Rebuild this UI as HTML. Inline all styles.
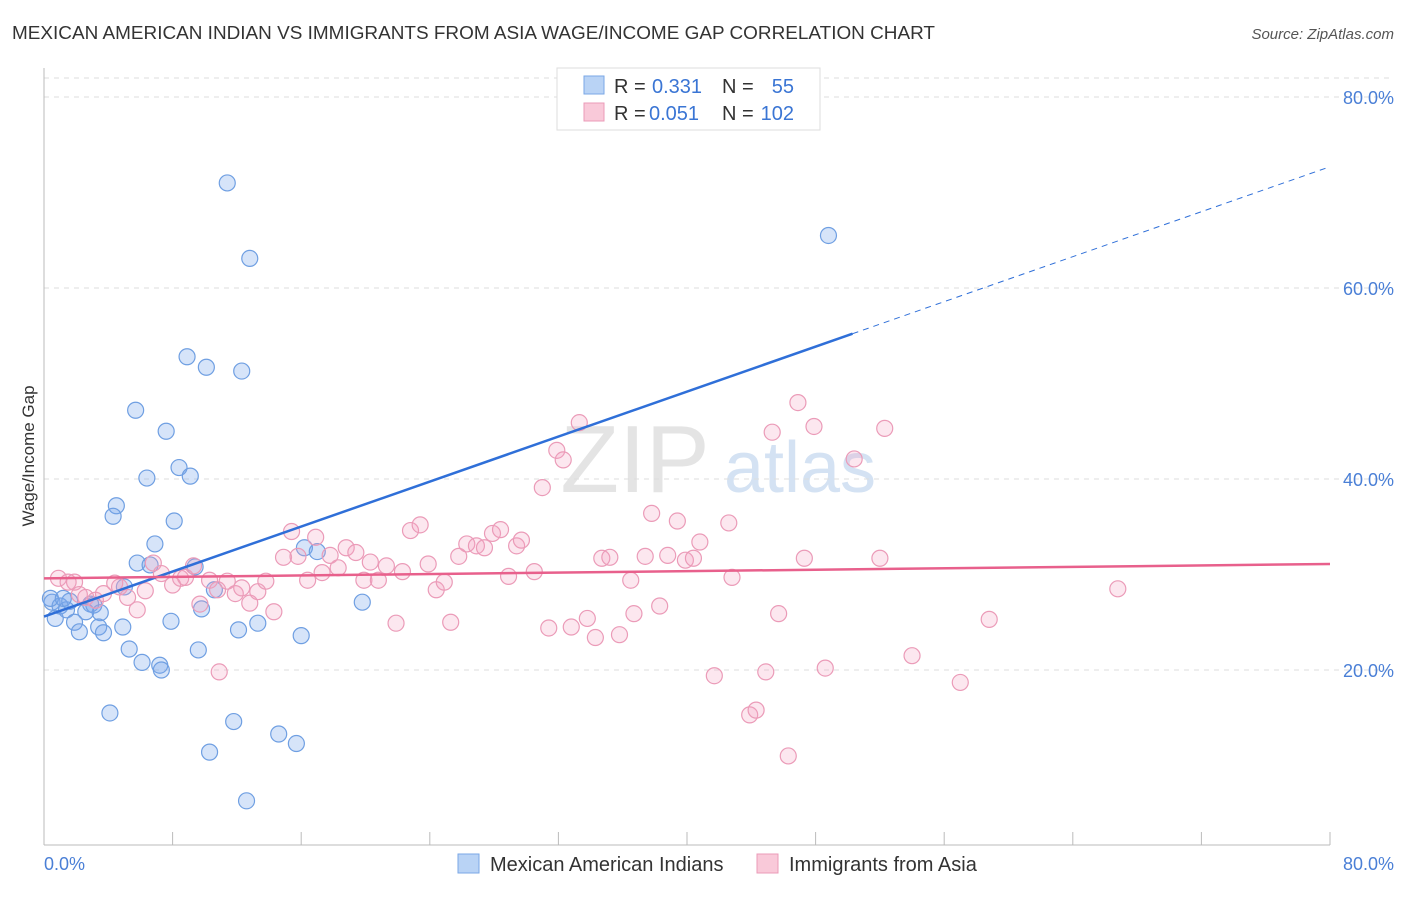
<!DOCTYPE html>
<html><head><meta charset="utf-8"><style>
body{margin:0;background:#fff;font-family:"Liberation Sans",sans-serif;}
svg text{font-family:"Liberation Sans",sans-serif;}
</style></head><body>
<svg id="chart" width="1406" height="892" xmlns="http://www.w3.org/2000/svg">
<text x="12" y="39" font-size="18" fill="#333" textLength="923" lengthAdjust="spacingAndGlyphs">MEXICAN AMERICAN INDIAN VS IMMIGRANTS FROM ASIA WAGE/INCOME GAP CORRELATION CHART</text>
<text x="1394" y="39" font-size="15" fill="#555" text-anchor="end" font-style="italic">Source: ZipAtlas.com</text>
<text x="635" y="492" font-size="96" fill="#e4e4e4" text-anchor="middle" font-family="Liberation Serif">ZIP</text>
<text x="800" y="492" font-size="72" fill="#d4e2f3" text-anchor="middle">atlas</text>
<g id="grid"></g>
<g id="axes"></g>
<g id="marks"></g>
<text x="34" y="456" font-size="17" fill="#333" text-anchor="middle" transform="rotate(-90 34 456)">Wage/Income Gap</text>
<text x="44" y="870" font-size="18" fill="#4a7fd6">0.0%</text>
<text x="1394" y="870" font-size="18" fill="#4a7fd6" text-anchor="end">80.0%</text>
<g>
<rect x="557" y="68" width="263" height="62" fill="#fff" stroke="#ddd"/>
<rect x="584" y="76" width="20" height="18" fill="#b9d3f5" stroke="#7aa7e6"/>
<rect x="584" y="103" width="20" height="18" fill="#f9c9d9" stroke="#eb9bb8"/>
<text x="614" y="93" font-size="20" fill="#333">R =</text>
<text x="652" y="93" font-size="20" fill="#3a75d4">0.331</text>
<text x="722" y="93" font-size="20" fill="#333">N =</text>
<text x="794" y="93" font-size="20" fill="#3a75d4" text-anchor="end">55</text>
<text x="614" y="120" font-size="20" fill="#333">R =</text>
<text x="649" y="120" font-size="20" fill="#3a75d4">0.051</text>
<text x="722" y="120" font-size="20" fill="#333">N =</text>
<text x="794" y="120" font-size="20" fill="#3a75d4" text-anchor="end">102</text>
</g>
<g>
<rect x="458" y="854" width="21" height="19" fill="#b9d3f5" stroke="#7aa7e6"/>
<text x="490" y="871" font-size="20" fill="#333">Mexican American Indians</text>
<rect x="757" y="854" width="21" height="19" fill="#f9c9d9" stroke="#eb9bb8"/>
<text x="789" y="871" font-size="20" fill="#333">Immigrants from Asia</text>
</g>
</svg>
<script>
const yTicks=[20,40,60,80];
const blueX=[11.4,12.8,48.8,8.9,10.1,12.3,5.7,7.6,6.4,8.4,9.1,4.5,4.3,8.1,6.9,5.8,6.6,9.4,16.2,17.0,10.6,5.0,19.8,9.8,7.9,12.1,13.3,16.0,4.9,5.3,9.6,6.1,7.2,7.3,4.1,11.8,14.6,15.7,10.3,12.6,0.5,0.7,1.0,1.4,1.6,1.9,2.2,2.9,3.1,3.5,3.4,3.7,2.6,0.4,1.2];
const blueY=[71.0,63.1,65.5,52.8,51.7,51.3,47.2,45.0,40.1,41.2,40.3,37.2,36.1,35.6,33.2,31.2,31.0,30.8,32.8,32.4,28.4,28.7,27.1,26.4,25.1,24.2,24.9,23.6,24.5,22.2,22.1,20.8,20.5,20.0,15.5,14.6,13.3,12.3,11.4,6.3,27.1,25.4,26.7,26.3,27.2,25.0,24.0,26.9,26.8,26.0,24.5,23.9,26.1,27.5,27.5];
const pinkX=[0.9,1.5,1.9,2.2,2.6,3.2,3.7,4.4,4.7,5.2,5.8,6.3,6.8,7.3,8.0,8.5,8.8,9.3,9.7,10.3,10.8,11.4,11.9,12.3,12.8,13.3,13.8,14.3,14.9,15.4,15.8,16.4,16.9,17.3,17.8,18.3,18.8,19.4,19.9,20.3,20.8,21.3,21.9,22.3,22.8,23.4,23.9,24.4,24.9,25.3,25.8,26.3,26.9,27.4,27.9,28.4,28.9,29.4,29.7,30.5,31.0,31.4,31.9,32.3,32.8,33.3,33.8,34.3,34.7,35.2,35.8,36.5,36.7,37.4,37.8,38.3,38.8,39.4,39.9,40.4,40.8,41.7,42.6,42.8,43.9,44.3,44.9,45.3,45.7,46.3,46.9,47.3,47.9,48.6,50.4,52.0,52.3,54.0,57.0,58.8,66.8,10.9];
const pinkY=[29.6,29.2,29.2,27.9,27.6,27.3,28.0,29.1,28.7,27.6,26.3,28.3,31.2,30.1,28.9,29.6,29.7,30.9,26.9,29.4,28.4,29.3,28.0,28.6,27.0,28.2,29.3,26.1,31.8,34.5,31.9,29.4,33.9,30.2,32.0,30.7,32.8,32.3,29.4,31.3,29.4,30.9,24.9,30.3,34.6,35.2,31.1,28.4,29.2,25.0,31.9,33.2,33.0,32.8,34.3,34.7,29.8,33.0,33.6,30.3,39.1,24.4,43.0,42.0,24.5,45.9,25.4,23.4,31.7,31.8,23.7,29.4,25.9,31.9,36.4,26.7,32.0,35.6,31.5,31.7,33.4,19.4,35.4,29.7,15.3,15.8,19.8,44.9,25.9,11.0,48.0,31.7,45.5,20.2,42.1,31.7,45.3,21.5,18.7,25.3,28.5,19.8];
const blueLine=[25.6,72.7];
const blueSolidEnd=50.3;
const pinkLine=[29.6,31.1];
const NS="http://www.w3.org/2000/svg";
const sx=v=>44+v*16.075, sy=v=>861-v*9.55;
function mk(t,a,p){const e=document.createElementNS(NS,t);for(const k in a)e.setAttribute(k,a[k]);p.appendChild(e);return e;}
const grid=document.getElementById('grid'),axes=document.getElementById('axes'),marks=document.getElementById('marks');
mk('line',{x1:44,y1:78,x2:1394,y2:78,stroke:'#ddd','stroke-dasharray':'5,5'},grid);
yTicks.forEach(t=>{
 const l=mk('line',{x1:44,y1:sy(t),x2:1394,y2:sy(t),stroke:'#ddd','stroke-dasharray':'5,5'},grid);
 
 
 const tx=mk('text',{x:1394,y:sy(t)+7,'font-size':18,fill:'#4a7fd6','text-anchor':'end'},grid);
 tx.textContent=t.toFixed(1)+'%';
 
 
});
mk('line',{x1:44,y1:68,x2:44,y2:845,stroke:'#bbb'},axes);
mk('line',{x1:44,y1:845,x2:1330,y2:845,stroke:'#bbb'},axes);
for(let i=0;i<=10;i++){mk('line',{x1:sx(i*8),y1:832,x2:sx(i*8),y2:845,stroke:'#bbb'},axes);}
function dots(xs,ys,fill,stroke,name){xs.forEach((x,i)=>{
 const c=mk('circle',{cx:sx(x),cy:sy(ys[i]),r:8,fill:fill,stroke:stroke,'stroke-width':1.2},marks);
 
 
});}
dots(blueX,blueY,'rgba(120,165,235,0.3)','#6f9fe2','point-mexican-american-indians');
dots(pinkX,pinkY,'rgba(245,160,190,0.25)','#eb9bb8','point-immigrants-from-asia');
const bAt=x=>blueLine[0]+(blueLine[1]-blueLine[0])*x/80;
let l=mk('line',{x1:sx(0),y1:sy(blueLine[0]),x2:sx(blueSolidEnd),y2:sy(bAt(blueSolidEnd)),stroke:'#2f6fd8','stroke-width':2.5},marks);


l=mk('line',{x1:sx(blueSolidEnd),y1:sy(bAt(blueSolidEnd)),x2:sx(80),y2:sy(blueLine[1]),stroke:'#2f6fd8','stroke-width':1,'stroke-dasharray':'6,5'},marks);


l=mk('line',{x1:sx(0),y1:sy(pinkLine[0]),x2:sx(80),y2:sy(pinkLine[1]),stroke:'#e8608c','stroke-width':2.5},marks);


</script>
</body></html>
